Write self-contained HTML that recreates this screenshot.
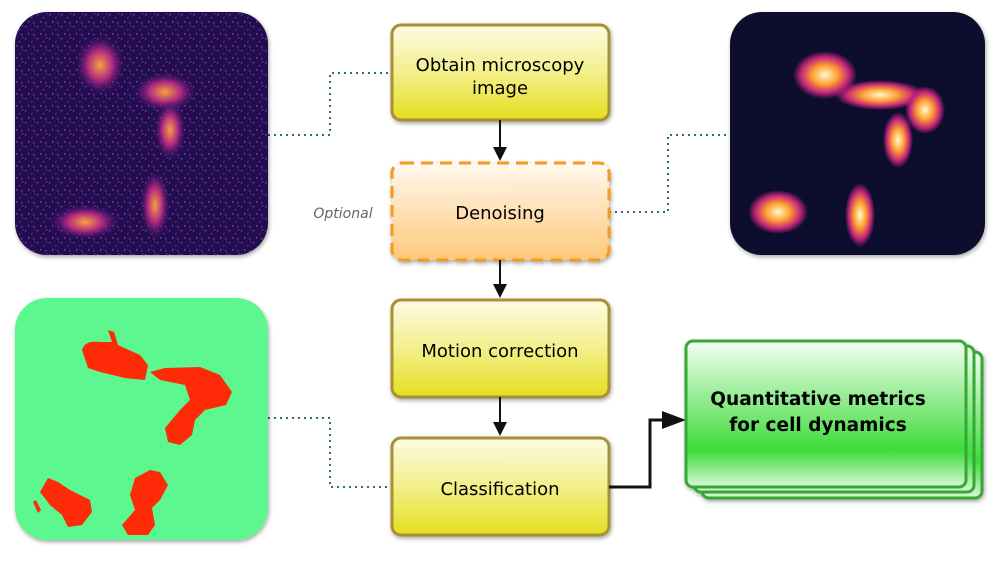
<!DOCTYPE html>
<html><head><meta charset="utf-8"><style>
body{margin:0;background:#fff;width:1000px;height:561px;overflow:hidden;font-family:"DejaVu Sans","Liberation Sans",sans-serif}
</style></head><body>
<svg width="1000" height="561" viewBox="0 0 1000 561" xmlns="http://www.w3.org/2000/svg">
<defs>
<linearGradient id="y" x1="0" y1="0" x2="0" y2="1"><stop offset="0" stop-color="#fdfbe4"/><stop offset=".5" stop-color="#f3ef8a"/><stop offset="1" stop-color="#e4df1e"/></linearGradient>
<linearGradient id="o" x1="0" y1="0" x2="0" y2="1"><stop offset="0" stop-color="#fff8f0"/><stop offset="1" stop-color="#fdc97a"/></linearGradient>
<linearGradient id="g" x1="0" y1="0" x2="0" y2="1"><stop offset="0" stop-color="#f4fdf2"/><stop offset=".75" stop-color="#3ddc3a"/><stop offset="1" stop-color="#d8f8d5"/></linearGradient>
<radialGradient id="hot" cx=".5" cy=".5" r=".5"><stop offset="0" stop-color="#fffbd0"/><stop offset=".4" stop-color="#ffa030"/><stop offset=".75" stop-color="#c0247a"/><stop offset="1" stop-color="#c0247a" stop-opacity="0"/></radialGradient>
<radialGradient id="warm" cx=".5" cy=".5" r=".5"><stop offset="0" stop-color="#f8a040"/><stop offset=".5" stop-color="#b02a80"/><stop offset="1" stop-color="#3a1070" stop-opacity="0"/></radialGradient>
<pattern id="noise" width="12" height="12" patternUnits="userSpaceOnUse">
<rect x="1" y="2" width="1.5" height="1.5" fill="#7a3aa0"/><rect x="7" y="5" width="1.5" height="1.5" fill="#6a2a90"/><rect x="4" y="9" width="1.5" height="1.5" fill="#8a40a8"/><rect x="10" y="1" width="1.5" height="1.5" fill="#5a2a88"/><rect x="9" y="10" width="1.5" height="1.5" fill="#7a3aa0"/>
</pattern>
<filter id="sh"><feDropShadow dx="1" dy="2" stdDeviation="2" flood-opacity=".35"/></filter>
</defs>
<g stroke="#2f6f6f" stroke-width="2" stroke-dasharray="2 4" fill="none">
<polyline points="268,135 330,135 330,73 391,73"/>
<polyline points="609,212 668,212 668,135 730,135"/>
<polyline points="268,418 330,418 330,487 391,487"/>
</g>
<rect x="15" y="12" width="253" height="243" rx="32" fill="#23104f" filter="url(#sh)"/>
<rect x="15" y="12" width="253" height="243" rx="32" fill="url(#noise)"/>
<g>
<ellipse cx="100" cy="65" rx="25" ry="30" fill="url(#warm)"/>
<ellipse cx="165" cy="92" rx="32" ry="20" fill="url(#warm)"/>
<ellipse cx="170" cy="130" rx="16" ry="30" fill="url(#warm)"/>
<ellipse cx="155" cy="205" rx="15" ry="35" fill="url(#warm)"/>
<ellipse cx="85" cy="222" rx="35" ry="18" fill="url(#warm)"/>
</g>
<rect x="730" y="12" width="255" height="243" rx="32" fill="#0e0a2e" filter="url(#sh)"/>
<g>
<ellipse cx="825" cy="75" rx="32" ry="24" fill="url(#hot)"/>
<ellipse cx="880" cy="95" rx="45" ry="15" fill="url(#hot)"/>
<ellipse cx="925" cy="110" rx="20" ry="24" fill="url(#hot)"/>
<ellipse cx="898" cy="140" rx="15" ry="28" fill="url(#hot)"/>
<ellipse cx="778" cy="212" rx="30" ry="22" fill="url(#hot)"/>
<ellipse cx="860" cy="215" rx="15" ry="32" fill="url(#hot)"/>
</g>
<rect x="15" y="298" width="253" height="242" rx="32" fill="#5cf88f" filter="url(#sh)"/>
<g fill="#ff2a08">
<path d="M82,350 Q85,340 100,342 L112,342 L108,330 L114,332 L118,345 L140,355 L148,365 L145,380 L125,378 L100,372 L88,368 Z"/>
<path d="M150,372 L165,368 L200,367 L220,375 L232,392 L226,405 L205,410 L195,420 L192,435 L180,445 L168,442 L165,428 L180,410 L190,400 L185,385 L160,380 Z"/>
<path d="M40,492 L48,478 L58,482 L70,490 L90,500 L92,512 L82,525 L68,527 L62,515 L50,505 Z"/>
<path d="M33,502 L36,500 L41,510 L38,513 Z"/>
<path d="M135,478 L150,470 L160,472 L168,485 L160,500 L152,508 L155,525 L148,535 L128,535 L122,525 L135,510 L130,495 Z"/>
</g>
<g filter="url(#sh)">
<rect x="392" y="25" width="217" height="95" rx="9" fill="url(#y)" stroke="#a89035" stroke-width="3"/>
<rect x="392" y="163" width="217" height="97" rx="10" fill="url(#o)" stroke="#f59a1e" stroke-width="3" stroke-dasharray="12 7"/>
<rect x="392" y="300" width="217" height="97" rx="9" fill="url(#y)" stroke="#a89035" stroke-width="3"/>
<rect x="392" y="438" width="217" height="97" rx="9" fill="url(#y)" stroke="#a89035" stroke-width="3"/>
</g>
<g font-size="18" fill="#000" text-anchor="middle">
<text x="500" y="71">Obtain microscopy</text>
<text x="500" y="94">image</text>
<text x="500" y="219">Denoising</text>
<text x="500" y="357">Motion correction</text>
<text x="500" y="495">Classification</text>
</g>
<text x="343" y="218" font-size="14" font-style="italic" fill="#666" text-anchor="middle">Optional</text>
<g stroke="#111" stroke-width="2" fill="#111">
<line x1="500" y1="120" x2="500" y2="150"/><polygon points="493,147 507,147 500,161" stroke="none"/>
<line x1="500" y1="260" x2="500" y2="287"/><polygon points="493,284 507,284 500,298" stroke="none"/>
<line x1="500" y1="397" x2="500" y2="425"/><polygon points="493,422 507,422 500,436" stroke="none"/>
<polyline points="609,487 650,487 650,420 668,420" fill="none" stroke-width="3"/><polygon points="662,411 686,420 662,429" stroke="none"/>
</g>
<g filter="url(#sh)">
<rect x="702" y="352" width="280" height="146" rx="7" fill="url(#g)" stroke="#34a834" stroke-width="3"/>
<rect x="694" y="346" width="280" height="146" rx="7" fill="url(#g)" stroke="#34a834" stroke-width="3"/>
<rect x="686" y="341" width="280" height="146" rx="7" fill="url(#g)" stroke="#34a834" stroke-width="3"/>
</g>
<g font-size="18.5" font-weight="bold" fill="#000" text-anchor="middle">
<text x="818" y="405">Quantitative metrics</text>
<text x="818" y="431">for cell dynamics</text>
</g>
</svg>
</body></html>
